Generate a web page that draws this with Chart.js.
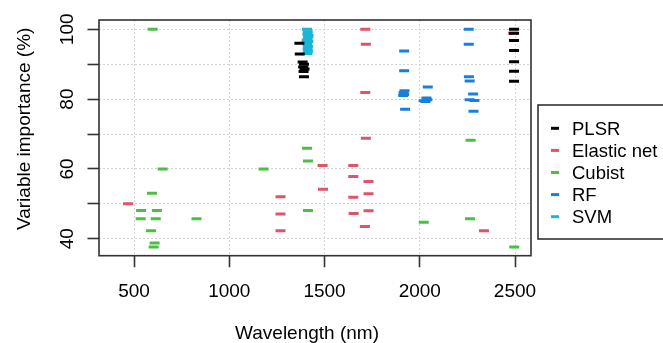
<!DOCTYPE html>
<html>
<head>
<meta charset="utf-8">
<script src="https://cdn.jsdelivr.net/npm/chart.js@4/dist/chart.umd.min.js"></script>
<style>
  html, body { margin: 0; padding: 0; background: #fff; }
  #wrap { width: 663px; height: 343px; }
</style>
</head>
<body>
<div id="wrap"><canvas id="chart" width="663" height="343"></canvas></div>
<script>
// models and their colours (R 4 palette)
const models = ['PLSR', 'Elastic net', 'Cubist', 'RF', 'SVM'];
const modelColors = ['#000000', '#DF536B', '#4DBE45', '#1A7FDB', '#1BB5D8'];

// wavelength (nm) / variable importance (%)
const plsrX = [1368, 1370, 1385, 1392, 1388, 1395, 1390, 1392, 2495, 2495, 2495, 2495, 2495, 2495, 2495];
const plsrY = [96.0, 92.9, 90.6, 90.0, 89.2, 88.6, 87.9, 86.4, 100, 98.9, 96.8, 93.9, 90.7, 88.0, 85.1];

const enetX = [469, 1269, 1269, 1269, 1490, 1492, 1651, 1651, 1651, 1653, 1714, 1717, 1714, 1717, 1731, 1731, 1731, 1712, 2337, 2490];
const enetY = [50.0, 52.0, 47.1, 42.3, 61.0, 54.2, 61.0, 57.8, 51.9, 47.2, 100, 95.7, 81.9, 68.8, 56.4, 52.9, 48.0, 43.5, 42.3, 98.9];

const cubistX = [598, 650, 594, 537, 620, 535, 614, 828, 589, 608, 603, 1180, 1408, 1413, 1413, 2021, 2267, 2264, 2496];
const cubistY = [100, 60.0, 53.0, 48.1, 48.1, 45.7, 45.7, 45.7, 42.3, 38.8, 37.6, 60.0, 65.9, 62.3, 48.1, 44.7, 68.2, 45.7, 37.6];

const rfX = [1918, 1918, 1920, 1915, 1918, 1913, 1923, 2042, 2020, 2035, 2040, 2030, 2257, 2257, 2258, 2262, 2280, 2262, 2287, 2282];
const rfY = [93.8, 88.1, 82.4, 81.9, 81.3, 81.0, 77.1, 83.5, 79.5, 80.3, 79.8, 79.3, 100, 95.7, 86.4, 85.2, 81.5, 79.8, 79.6, 76.5];

const svmX = [1408, 1412, 1410, 1414, 1411, 1415, 1409, 1413, 1411, 1414, 1410, 1416, 1406];
const svmY = [100, 99.3, 98.6, 97.9, 97.2, 96.5, 95.8, 95.1, 94.4, 93.7, 93.1, 98.2, 96.8];

// axes
const xTickLabels = ['500', '1000', '1500', '2000', '2500'];
const yGridValues = [40, 50, 60, 70, 80, 90, 100];
const yTickLabels = ['40', '60', '80', '100'];

const seriesX = [plsrX, enetX, cubistX, rfX, svmX];
const seriesY = [plsrY, enetY, cubistY, rfY, svmY];

const FONT = '"Liberation Sans", Arial, sans-serif';

const datasets = models.map((name, i) => ({
  label: name,
  data: seriesX[i].map((x, j) => ({ x: x, y: seriesY[i][j] })),
  pointStyle: 'line',
  pointRadius: 5,
  pointBorderWidth: 3,
  pointBorderColor: modelColors[i],
  pointBackgroundColor: modelColors[i],
  showLine: false
}));

// box, tick labels, titles and legend the R way
const rPlot = {
  id: 'rPlot',
  afterDraw(chart) {
    const { ctx, chartArea: a, scales: { x, y } } = chart;
    ctx.save();
    ctx.strokeStyle = '#333';
    ctx.lineWidth = 1.6;
    ctx.strokeRect(a.left, a.top, a.right - a.left, a.bottom - a.top);

    ctx.fillStyle = '#000';
    ctx.font = '19px ' + FONT;
    ctx.textAlign = 'center';
    ctx.textBaseline = 'alphabetic';
    xTickLabels.forEach(t => {
      ctx.fillText(t, x.getPixelForValue(Number(t)), a.bottom + 41);
    });
    yTickLabels.forEach(t => {
      ctx.save();
      ctx.translate(a.left - 26, y.getPixelForValue(Number(t)));
      ctx.rotate(-Math.PI / 2);
      ctx.fillText(t, 0, 0);
      ctx.restore();
    });

    ctx.fillText('Wavelength (nm)', (a.left + a.right) / 2 - 8, 339);
    ctx.save();
    ctx.translate(30, (a.top + a.bottom) / 2 - 9);
    ctx.rotate(-Math.PI / 2);
    ctx.fillText('Variable importance (%)', 0, 0);
    ctx.restore();

    // legend
    ctx.font = '18.5px ' + FONT;
    ctx.strokeStyle = '#333';
    ctx.lineWidth = 1.6;
    ctx.strokeRect(538, 105, 140, 134);
    ctx.textAlign = 'left';
    models.forEach((m, i) => {
      const cy = 128.3 + i * 22.1;
      ctx.strokeStyle = modelColors[i];
      ctx.lineWidth = 3;
      ctx.beginPath();
      ctx.moveTo(551, cy);
      ctx.lineTo(559, cy);
      ctx.stroke();
      ctx.fillText(m, 572, cy + 6.7);
    });
    ctx.restore();
  }
};

new Chart(document.getElementById('chart'), {
  type: 'scatter',
  data: { datasets: datasets },
  plugins: [rPlot],
  options: {
    responsive: false,
    devicePixelRatio: 1,
    animation: false,
    layout: { padding: { top: 20, right: 132, left: 0, bottom: 0 } },
    plugins: { legend: { display: false }, tooltip: { enabled: false } },
    scales: {
      x: {
        type: 'linear',
        min: 316,
        max: 2584,
        afterBuildTicks: s => { s.ticks = xTickLabels.map(t => ({ value: Number(t) })); },
        afterFit: s => { s.height = 87.3; },
        ticks: { display: true, callback: () => '' },
        border: { display: false, dash: [2, 2] },
        grid: { color: '#D3D3D3', lineWidth: 1, tickColor: '#333', tickWidth: 1.6, tickLength: 11.5, tickBorderDash: [] }
      },
      y: {
        type: 'linear',
        min: 35.13,
        max: 102.67,
        afterBuildTicks: s => { s.ticks = yGridValues.map(v => ({ value: v })); },
        afterFit: s => { s.width = 99; },
        ticks: { display: true, callback: () => '' },
        border: { display: false, dash: [2, 2] },
        grid: { color: '#D3D3D3', lineWidth: 1, tickColor: '#333', tickWidth: 1.6, tickLength: 11.5, tickBorderDash: [] }
      }
    }
  }
});
</script>
</body>
</html>
